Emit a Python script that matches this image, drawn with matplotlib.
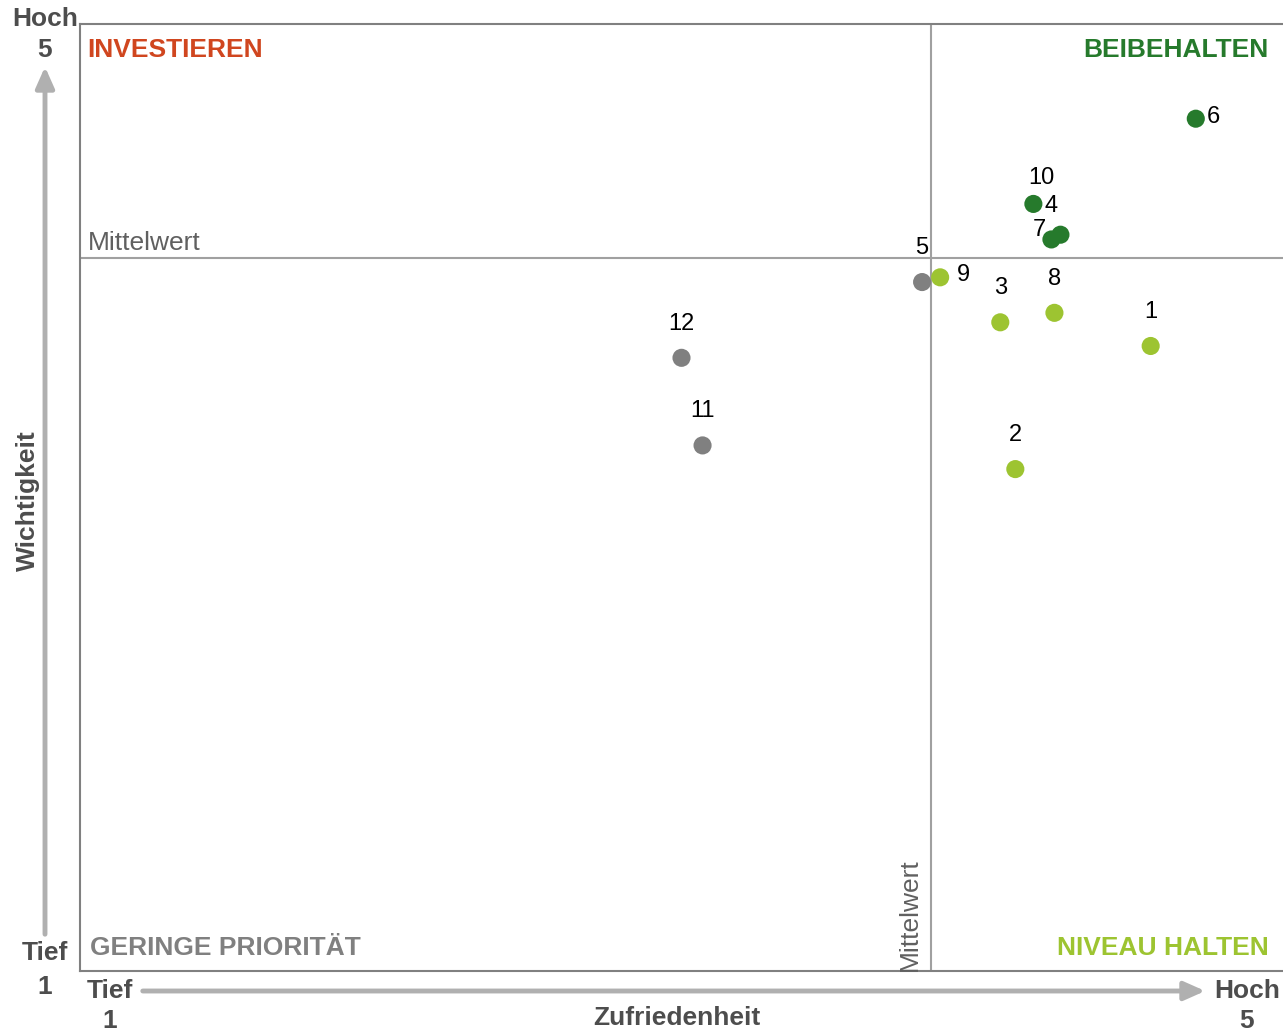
import matplotlib.pyplot as plt
from matplotlib.patches import FancyArrowPatch

plt.rcParams['font.family'] = ['Liberation Sans', 'DejaVu Sans']

# data: Zufriedenheit (x), Wichtigkeit (y)
labels = ['1', '2', '3', '4', '5', '6', '7', '8', '9', '10', '11', '12']
zufriedenheit = [4.56, 4.11, 4.06, 4.26, 3.80, 4.71, 4.23, 4.24, 3.86, 4.17, 3.07, 3.00]
wichtigkeit = [3.64, 3.12, 3.74, 4.11, 3.91, 4.60, 4.09, 3.78, 3.93, 4.24, 3.22, 3.59]
gruppe = ['niveau', 'niveau', 'niveau', 'beibehalten', 'gering', 'beibehalten',
          'beibehalten', 'niveau', 'niveau', 'beibehalten', 'gering', 'gering']
mittel_x = 3.83
mittel_y = 4.01

colors = {'beibehalten': '#267a2c', 'niveau': '#9dc431', 'gering': '#808080'}
# label offsets in points (dx, dy)
offsets = {'6': (13, 1.5), '4': (-6.5, 21), '7': (-8.6, 7), '9': (16.5, 1.5), '10': (6, 19)}

fig = plt.figure(figsize=(12.83, 10.31), dpi=100)
ax = fig.add_axes([80 / 1283, 60 / 1031, 1203 / 1283, 947 / 1031])
ax.set_xlim(1, 5)
ax.set_ylim(1, 5)
ax.set_xticks([])
ax.set_yticks([])
for s in ['left', 'top', 'bottom']:
    ax.spines[s].set_color('#808080')
    ax.spines[s].set_linewidth(1.5)
ax.spines['right'].set_visible(False)

ax.axvline(mittel_x, color='#a0a0a0', lw=1.5, zorder=1)
ax.axhline(mittel_y, color='#a0a0a0', lw=1.5, zorder=1)

for lab, x, y, g in zip(labels, zufriedenheit, wichtigkeit, gruppe):
    ax.scatter(x, y, s=170, color=colors[g], edgecolors='none', zorder=3)
    dx, dy = offsets.get(lab, (0, 24.5))
    ax.annotate(lab, (x, y), xytext=(dx, dy), textcoords='offset points',
                ha='center', va='center', fontsize=17, color='black')

# quadrant titles
ax.text(0.006, 0.985, 'INVESTIEREN', transform=ax.transAxes, ha='left', va='top',
        fontsize=19, fontweight='bold', color='#d0461f')
ax.text(0.988, 0.985, 'BEIBEHALTEN', transform=ax.transAxes, ha='right', va='top',
        fontsize=19, fontweight='bold', color='#267a2c')
ax.text(0.008, 0.012, 'GERINGE PRIORITÄT', transform=ax.transAxes, ha='left', va='bottom',
        fontsize=19, fontweight='bold', color='#808080')
ax.text(0.988, 0.012, 'NIVEAU HALTEN', transform=ax.transAxes, ha='right', va='bottom',
        fontsize=19, fontweight='bold', color='#9dc431')

ax.text(1.025, mittel_y + 0.015, 'Mittelwert', ha='left', va='bottom', fontsize=19, color='#606060')
ax.text(mittel_x - 0.03, 1.0, 'Mittelwert', ha='right', va='bottom', rotation=90,
        fontsize=19, color='#606060')

# axis arrows and labels outside the box
grey = '#b0b0b0'
dark = '#4d4d4d'
fig.patches.append(FancyArrowPatch(
    (45 / 1283, 1 - 937 / 1031), (45 / 1283, 1 - 64 / 1031), transform=fig.transFigure,
    arrowstyle='-|>,head_length=0.9,head_width=0.4', mutation_scale=14, lw=3.5, color=grey))
fig.patches.append(FancyArrowPatch(
    (140 / 1283, 1 - 991 / 1031), (1208 / 1283, 1 - 991 / 1031), transform=fig.transFigure,
    arrowstyle='-|>,head_length=0.9,head_width=0.4', mutation_scale=14, lw=3.5, color=grey))


def ftext(px, py, s, **kw):
    fig.text(px / 1283, 1 - py / 1031, s, ha='center', va='center', fontsize=19,
             fontweight='bold', color=dark, **kw)


ftext(45, 19, 'Hoch')
ftext(45, 50, '5')
ftext(45, 953, 'Tief')
ftext(45, 987, '1')
ftext(110, 991, 'Tief')
ftext(110, 1021, '1')
ftext(1247, 991, 'Hoch')
ftext(1247, 1021, '5')
ftext(677, 1018, 'Zufriedenheit')
ftext(28, 501, 'Wichtigkeit', rotation=90)

fig.savefig('out.png', dpi=100)
